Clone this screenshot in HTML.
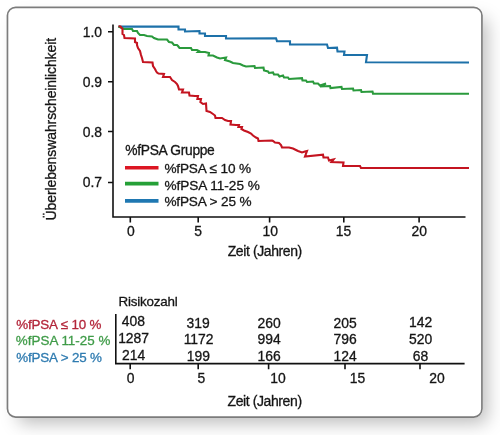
<!DOCTYPE html>
<html><head><meta charset="utf-8">
<style>
html,body{margin:0;padding:0;background:#fff;width:500px;height:435px;overflow:hidden;}
#card{position:absolute;left:6px;top:6px;width:477px;height:412px;box-sizing:border-box;border:none;border-radius:9px;box-shadow:8px 9px 18px -4px rgba(0,0,0,0.27);background:#fff;}
svg{position:absolute;left:0;top:0;will-change:transform;}
text{font-family:"Liberation Sans",sans-serif;fill:#151515;stroke:#151515;stroke-width:0.3px;}
</style></head><body>
<div id="card"></div>
<svg width="500" height="435" viewBox="0 0 500 435">
<rect x="7.45" y="7.35" width="474.5" height="409.7" rx="8.2" ry="8.2" fill="none" stroke="#7c7c7c" stroke-width="1.7"/>
<g stroke="#111" stroke-width="1.6" fill="none">
<path d="M113 24.5 V217 H465.5"/>
<path d="M108 31.8 H113 M108 81.7 H113 M108 131.5 H113 M108 182.5 H113"/>
<path d="M130.3 217 V222.5 M198.2 217 V222.5 M269.6 217 V222.5 M343.8 217 V222.5 M419.1 217 V222.5"/>
<path d="M115.8 314 V363.6 H464.6"/>
<path d="M130.2 363.6 V369.2 M198.2 363.6 V369.2 M268.6 363.6 V369.2 M345 363.6 V369.2 M420 363.6 V369.2"/>
</g>
<g font-size="13.9">
<g text-anchor="end">
<text x="102" y="36.6">1.0</text>
<text x="102" y="86.6">0.9</text>
<text x="102" y="136.6">0.8</text>
<text x="102" y="187.2">0.7</text>
</g>
<g text-anchor="middle">
<text x="130.9" y="236">0</text>
<text x="198.1" y="236">5</text>
<text x="270.3" y="236">10</text>
<text x="343.6" y="236">15</text>
<text x="419.3" y="236">20</text>
</g>
<text x="227.7" y="256.4" font-size="14" letter-spacing="-0.4">Zeit (Jahren)</text>
<text transform="translate(55.5 220.4) rotate(-90)" font-size="14" letter-spacing="-0.1">Überlebenswahrscheinlichkeit</text>
<text x="125.3" y="154.7" font-size="13.8" letter-spacing="-0.3">%fPSA Gruppe</text>
<text x="164.4" y="173" font-size="13.6" letter-spacing="-0.15">%fPSA ≤ 10 %</text>
<text x="164.4" y="189.6" font-size="13.6" letter-spacing="-0.03">%fPSA 11-25 %</text>
<text x="164.4" y="206.2" font-size="13.6" letter-spacing="-0.15">%fPSA &gt; 25 %</text>

<text x="118.6" y="306.4" font-size="13.4" letter-spacing="-0.2">Risikozahl</text>
<g font-size="13.4" letter-spacing="-0.15">
<text x="16.2" y="328.6" style="fill:#b3263a;stroke:#b3263a">%fPSA ≤ 10 %</text>
<text x="15.8" y="345.2" letter-spacing="0.03" style="fill:#3f9b48;stroke:#3f9b48">%fPSA 11-25 %</text>
<text x="16.2" y="361.7" style="fill:#2f7bb0;stroke:#2f7bb0">%fPSA &gt; 25 %</text>
</g>
<g text-anchor="middle" font-size="13.9">
<text x="133.3" y="326.2">408</text>
<text x="133.6" y="342.9">1287</text>
<text x="133.6" y="359.5">214</text>
<text x="198.2" y="327.6">319</text>
<text x="198.6" y="344.3">1172</text>
<text x="198.4" y="360.5">199</text>
<text x="269.2" y="327.6">260</text>
<text x="269.2" y="344.3">994</text>
<text x="269.2" y="360.5">166</text>
<text x="345.1" y="327.6">205</text>
<text x="345.1" y="344.1">796</text>
<text x="345.1" y="361">124</text>
<text x="420.6" y="326.6">142</text>
<text x="420.6" y="343.6">520</text>
<text x="420.6" y="360.5">68</text>
</g>
<g text-anchor="middle">
<text x="130.6" y="383">0</text>
<text x="201.4" y="383">5</text>
<text x="278" y="383">10</text>
<text x="357.5" y="383">15</text>
<text x="437" y="383">20</text>
</g>
<text x="227.5" y="405.6" font-size="14" letter-spacing="-0.4">Zeit (Jahren)</text>
</g>
<g stroke-width="3.6" fill="none">
<path d="M125 167.8 H158.5" stroke="#dc1623"/>
<path d="M125 183.6 H158.5" stroke="#25a037"/>
<path d="M125 200.9 H158.5" stroke="#1f78b2"/>
</g>
<g stroke-width="2.1" fill="none" stroke-linejoin="miter">
<polyline stroke="#1d71a9" points="118.5,26.6 178.5,26.6 178.5,29.5 185.0,29.5 185.0,31.5 199.5,31.0 199.5,33.5 205.0,33.5 205.0,36.0 226.0,36.0 226.0,38.5 276.0,38.2 277.0,41.2 290.0,41.2 290.0,44.5 327.0,44.5 328.0,48.0 337.0,47.7 337.5,51.5 344.5,51.5 344.0,55.0 367.0,55.0 366.0,62.3 469.0,62.5"/>
<polyline stroke="#2a9a3c" points="118.5,26.5 124.0,29.0 132.0,29.0 133.0,31.0 137.0,31.0 138.0,33.0 140.0,35.0 144.0,35.0 147.0,36.0 152.0,36.5 154.0,38.0 158.0,39.5 167.0,39.5 169.0,42.0 172.0,42.5 174.0,45.0 177.0,45.0 178.0,46.0 179.5,48.0 191.0,48.0 192.0,50.0 197.0,50.0 199.0,51.0 198.0,52.0 205.0,52.0 209.0,53.0 208.5,55.5 213.0,55.5 217.0,57.5 220.0,58.5 226.0,57.5 225.0,60.0 230.0,61.5 233.0,63.0 240.0,64.0 243.0,65.5 246.0,66.5 254.5,66.0 255.0,68.0 263.5,67.5 264.0,70.5 268.0,71.5 269.0,73.0 273.0,72.5 274.0,74.5 278.0,74.5 279.5,76.5 283.0,75.5 284.0,77.5 288.0,77.5 289.0,79.0 302.0,78.2 302.5,80.5 306.0,80.5 307.0,82.0 313.0,81.5 314.0,83.5 318.0,83.5 320.0,85.5 326.0,83.5 320.0,86.5 330.0,86.0 330.5,88.0 341.5,87.0 342.0,89.0 353.0,88.5 353.5,90.5 361.0,90.0 361.5,92.0 372.5,91.5 373.0,93.6 469.0,93.7"/>
<polyline stroke="#c41420" points="118.5,26.2 120.5,26.5 122.5,29.0 122.5,34.0 124.0,35.0 124.5,38.0 135.0,38.5 135.0,42.0 137.0,43.0 137.0,45.0 138.0,48.0 140.0,51.0 141.0,55.0 142.0,58.0 143.0,62.0 152.5,62.5 153.0,66.0 155.0,69.0 156.0,71.0 157.0,72.5 158.5,73.5 164.0,74.0 163.0,77.0 170.0,77.0 172.0,80.0 175.0,82.0 177.0,84.0 178.0,86.0 179.0,89.5 183.0,89.5 182.0,92.5 189.0,92.5 189.5,95.5 195.0,96.0 198.0,96.0 197.4,99.0 201.0,99.0 200.4,102.0 203.0,104.0 206.0,103.5 206.5,111.0 210.0,112.0 213.0,114.0 215.0,115.5 215.5,118.0 222.0,118.0 225.0,120.0 228.0,121.0 231.0,121.0 230.5,124.5 236.0,125.0 239.0,125.0 238.4,127.0 242.0,127.0 241.4,129.0 244.0,130.5 248.0,132.0 251.0,133.5 253.0,135.5 256.0,137.5 258.0,138.5 258.5,141.0 272.0,140.5 273.0,141.0 275.0,142.5 279.0,143.0 281.0,145.0 282.0,147.5 289.0,147.5 293.0,148.5 296.0,150.0 298.0,151.0 302.0,152.5 305.0,151.5 307.0,151.0 305.0,156.5 323.0,154.7 323.5,157.5 328.0,157.5 329.0,160.5 333.5,159.5 331.5,162.0 343.5,162.5 343.0,166.0 360.0,166.0 361.0,168.0 469.0,168.0"/>
</g>
</svg>
</body></html>
